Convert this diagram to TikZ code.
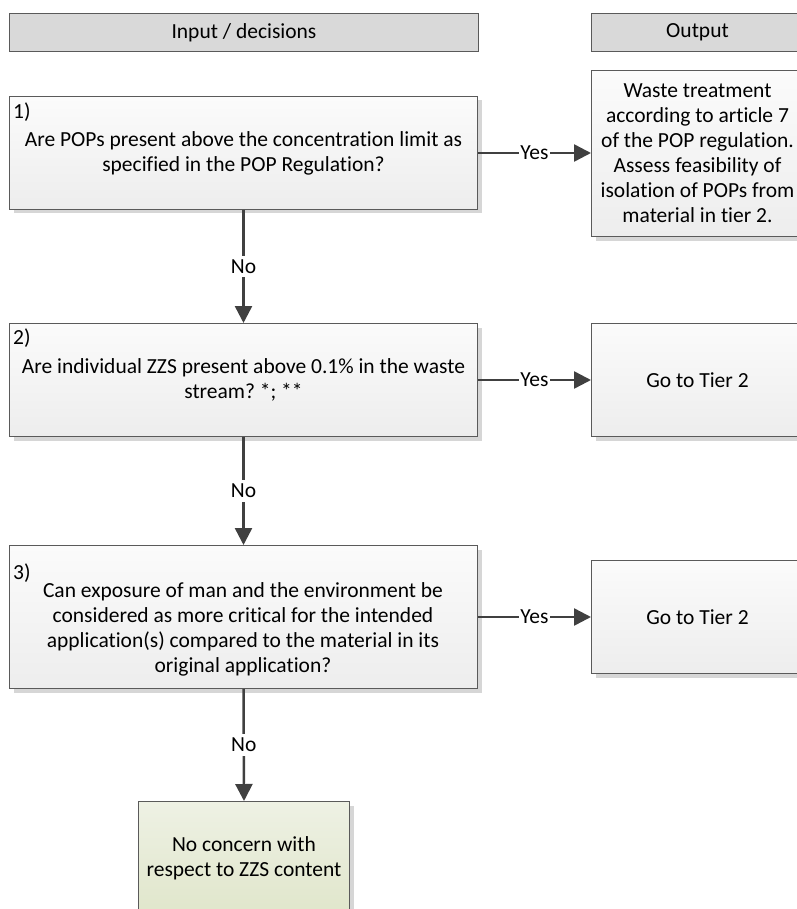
\documentclass[tikz,border=0pt]{standalone}
\usepackage{fontspec}
\setmainfont{Carlito}[Ligatures=NoCommon]
\usetikzlibrary{arrows.meta,shadows}
\definecolor{hdrfill}{HTML}{D9D9D9}
\definecolor{edgec}{HTML}{5A5A5A}
\definecolor{boxtop}{HTML}{FBFBFB}
\definecolor{boxbot}{HTML}{EDEDED}
\definecolor{greentop}{HTML}{EEF1E4}
\definecolor{greenbot}{HTML}{E0E6CB}
\definecolor{shadowc}{HTML}{D6D6D6}
\definecolor{arrowc}{HTML}{404040}
\tikzset{
  txt/.style={font=\fontsize{21.5}{25}\selectfont\frenchspacing, text=black},
  header/.style={txt, draw=edgec, line width=1pt, fill=hdrfill, minimum height=38pt, inner sep=0pt, anchor=north west},
  box/.style={txt, draw=edgec, line width=1pt, top color=boxtop, bottom color=boxbot,
    drop shadow={shadow xshift=4pt, shadow yshift=-4pt, fill=shadowc, opacity=1},
    inner sep=0pt, align=center, anchor=north west},
  greenbox/.style={box, top color=greentop, bottom color=greenbot},
  numlbl/.style={txt, anchor=west, inner sep=0pt},
  conn/.style={draw=arrowc, line width=2.5pt, -{Triangle[length=17pt,width=17pt]}},
  lbl/.style={txt, fill=white, inner xsep=1pt, inner ysep=4pt},
}
\begin{document}
\begin{tikzpicture}[x=1pt,y=-1pt]
\useasboundingbox (0,0) rectangle (796,909);
% headers
\node[header, minimum width=469pt] (hin) at (9,13) {Input / decisions};
\node[header, minimum width=212pt] (hout) at (591,13) {Output};
% left column
\node[box, minimum width=468pt, minimum height=113pt] (b1) at (9,96)
  {Are POPs present above the concentration limit as\\specified in the POP Regulation?};
\node[numlbl] (n1) at (13,112) {1)};
\node[box, minimum width=468pt, minimum height=113pt] (b2) at (9,323)
  {Are individual ZZS present above 0.1\% in the waste\\stream? *; **};
\node[numlbl] (n2) at (13,338) {2)};
\node[box, minimum width=468pt, minimum height=143pt] (b3) at (9,545) {};
\node[numlbl] (n3) at (13,573) {3)};
\node[txt, align=center, inner sep=0pt] (q3) at (243,629.5)
  {Can exposure of man and the environment be\\considered as more critical for the intended\\application(s) compared to the material in its\\original application?};
\node[greenbox, minimum width=211pt, minimum height=113pt] (fin) at (138,801)
  {No concern with\\respect to ZZS content};
% right column
\node[box, minimum width=212pt, minimum height=166pt] (o1) at (591,70)
  {Waste treatment\\according to article 7\\of the POP regulation.\\Assess feasibility of\\isolation of POPs from\\material in tier 2.};
\node[box, minimum width=212pt, minimum height=113pt] (o2) at (591,323) {Go to Tier 2};
\node[box, minimum width=212pt, minimum height=113pt] (o3) at (591,560) {Go to Tier 2};
% connectors
\draw[conn] (b1.east) -- node[lbl] {Yes} (b1.east -| o1.west);
\draw[conn] (b2.east) -- node[lbl] {Yes} (b2.east -| o2.west);
\draw[conn] (b3.east) -- node[lbl] {Yes} (b3.east -| o3.west);
\draw[conn] (b1.south) -- node[lbl, inner xsep=2pt] {No} (b2.north);
\draw[conn] (b2.south) -- node[lbl, inner xsep=2pt] {No} (b3.north);
\draw[conn] (b3.south) -- node[lbl, inner xsep=2pt] {No} (fin.north);
\end{tikzpicture}
\end{document}
